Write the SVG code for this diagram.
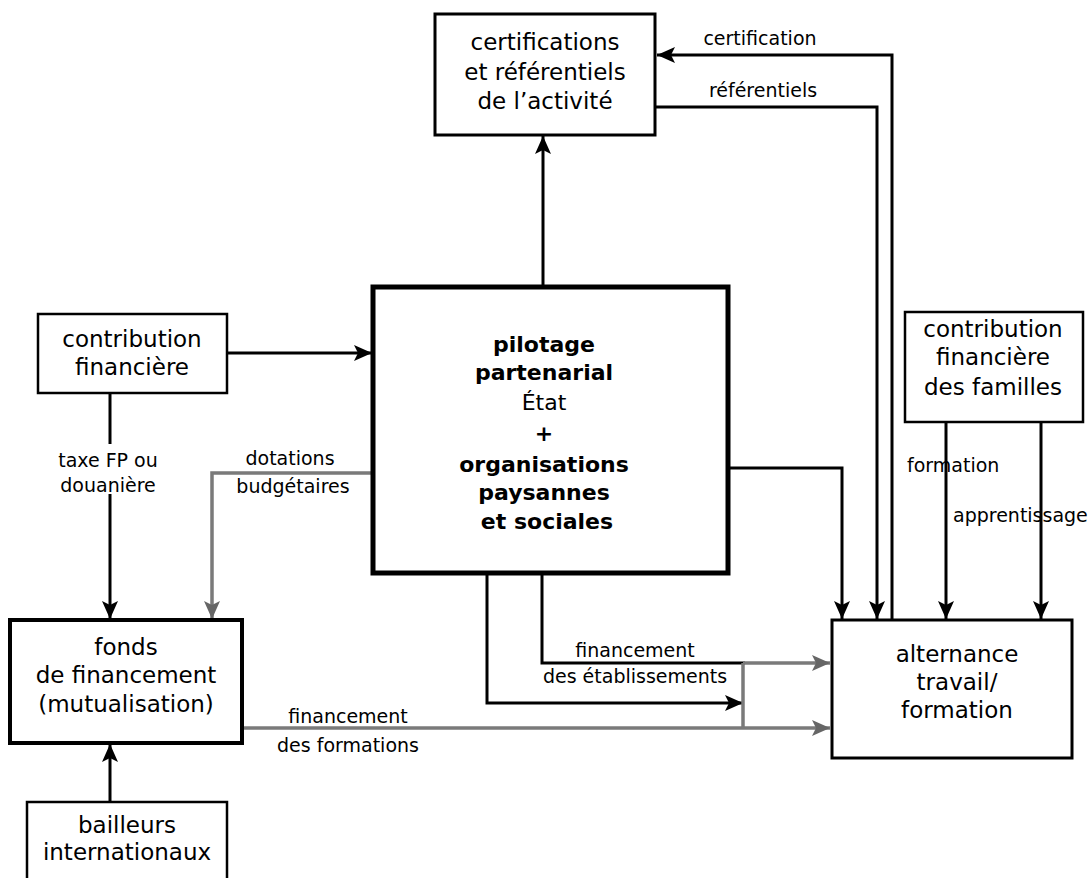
<svg xmlns="http://www.w3.org/2000/svg" width="1091" height="878" viewBox="0 0 1091 878">
<style>
.box{fill:#fff;stroke:#000}
.t{font-family:"DejaVu Sans","Liberation Sans",sans-serif;font-size:23px;fill:#000;text-anchor:middle}
.b{font-weight:bold;font-size:22px}
.lbl{font-family:"DejaVu Sans","Liberation Sans",sans-serif;font-size:19px;fill:#000;text-anchor:middle}
.c{fill:none;stroke:#000;stroke-width:3}
.g{fill:none;stroke:#7a7a7a;stroke-width:3.5}
</style>
<defs>
<marker id="ah" markerUnits="userSpaceOnUse" markerWidth="20" markerHeight="18" refX="18" refY="8" orient="auto"><path d="M0,0 L18,8 L0,16 L4,8 z" fill="#000"/></marker>
<marker id="gh" markerUnits="userSpaceOnUse" markerWidth="20" markerHeight="18" refX="18" refY="8" orient="auto"><path d="M0,0 L18,8 L0,16 L4,8 z" fill="#666"/></marker>
</defs>
<rect width="1091" height="878" fill="#fff"/>
<g id="connectors">
<path class="c" d="M543,287 V136" marker-end="url(#ah)"/>
<path class="c" d="M892,620 V55 H657" marker-end="url(#ah)"/>
<path class="c" d="M655,107 H877 V619" marker-end="url(#ah)"/>
<path class="c" d="M227,353 H372" marker-end="url(#ah)"/>
<path class="c" d="M110,393 V444"/>
<path class="c" d="M110,494 V619" marker-end="url(#ah)"/>
<path class="g" d="M373,473 H212 V619" marker-end="url(#gh)"/>
<path class="c" d="M110,802 V744" marker-end="url(#ah)"/>
<path class="g" d="M242,728 H830" marker-end="url(#gh)"/>
<path class="c" d="M728,468 H842 V619" marker-end="url(#ah)"/>
<path class="c" d="M542,573 V663 H745"/>
<path class="g" d="M743,663 H830" marker-end="url(#gh)"/>
<path class="c" d="M487,573 V703 H743" marker-end="url(#ah)"/>
<path class="g" d="M743,663 V728"/>
<path class="c" d="M946,422 V619" marker-end="url(#ah)"/>
<path class="c" d="M1041,422 V619" marker-end="url(#ah)"/>
<text class="lbl" x="760" y="45">certification</text>
<text class="lbl" x="763" y="97">référentiels</text>
<text class="lbl" x="108" y="467">taxe FP ou</text>
<text class="lbl" x="108" y="492">douanière</text>
<text class="lbl" x="290" y="465">dotations</text>
<text class="lbl" x="293" y="493">budgétaires</text>
<text class="lbl" x="348" y="723">financement</text>
<text class="lbl" x="348" y="752">des formations</text>
<text class="lbl" x="635" y="657">financement</text>
<text class="lbl" x="635" y="683">des établissements</text>
<text class="lbl" x="907" y="472" style="text-anchor:start">formation</text>
<text class="lbl" x="953" y="522" style="text-anchor:start">apprentissage</text>
</g>
<g id="certifications">
<rect class="box" x="435" y="14" width="220" height="121" stroke-width="3"/>
<text class="t" x="545" y="50">certifications</text>
<text class="t" x="545" y="80">et référentiels</text>
<text class="t" x="545" y="109">de l’activité</text>
</g>
<g id="pilotage">
<rect class="box" x="373" y="287" width="355" height="286" stroke-width="5"/>
<text class="t b" x="544" y="352">pilotage</text>
<text class="t b" x="544" y="380">partenarial</text>
<text class="t" x="544" y="410" style="font-size:22px">État</text>
<text class="t b" x="544" y="441">+</text>
<text class="t b" x="544" y="472">organisations</text>
<text class="t b" x="544" y="500">paysannes</text>
<text class="t b" x="547" y="529">et sociales</text>
</g>
<g id="contribution">
<rect class="box" x="38" y="314" width="189" height="79" stroke-width="2.5"/>
<text class="t" x="132" y="347">contribution</text>
<text class="t" x="132" y="375">financière</text>
</g>
<g id="fonds">
<rect class="box" x="10" y="620" width="232" height="123" stroke-width="4"/>
<text class="t" x="126" y="655">fonds</text>
<text class="t" x="126" y="683">de financement</text>
<text class="t" x="126" y="712">(mutualisation)</text>
</g>
<g id="bailleurs">
<rect class="box" x="27" y="802" width="200" height="90" stroke-width="2.5"/>
<text class="t" x="127" y="833">bailleurs</text>
<text class="t" x="127" y="860">internationaux</text>
</g>
<g id="familles">
<rect class="box" x="905" y="312" width="178" height="110" stroke-width="2.5"/>
<text class="t" x="993" y="337">contribution</text>
<text class="t" x="993" y="365">financière</text>
<text class="t" x="993" y="395">des familles</text>
</g>
<g id="alternance">
<rect class="box" x="832" y="620" width="240" height="138" stroke-width="3"/>
<text class="t" x="957" y="662">alternance</text>
<text class="t" x="957" y="690">travail/</text>
<text class="t" x="957" y="718">formation</text>
</g>
</svg>
